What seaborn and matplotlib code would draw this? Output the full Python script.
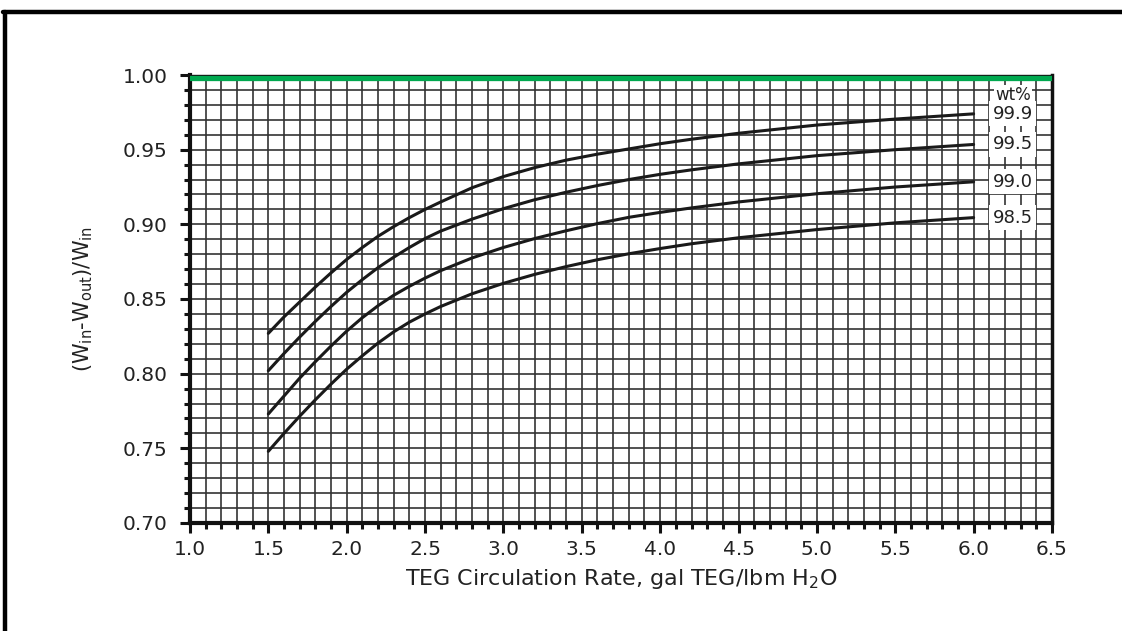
import numpy as np
import pandas as pd
import matplotlib
matplotlib.use("Agg")
import matplotlib.pyplot as plt
import seaborn as sns
from matplotlib.ticker import MultipleLocator, FormatStrFormatter
from matplotlib.lines import Line2D

# ---- data ----
rate = [1.5, 1.6, 1.7, 1.8, 1.9, 2.0, 2.1, 2.2, 2.3, 2.4, 2.5, 2.6,
        2.8, 3.0, 3.2, 3.4, 3.6, 3.8, 4.0, 4.2, 4.5, 5.0, 5.5, 6.0]
wt_99_9 = [0.827, 0.838, 0.848, 0.858, 0.8675, 0.8765, 0.8845, 0.892, 0.8985, 0.9045, 0.910, 0.915,
           0.9245, 0.932, 0.938, 0.943, 0.947, 0.9505, 0.954, 0.957, 0.961, 0.9665, 0.9705, 0.974]
wt_99_5 = [0.802, 0.8135, 0.8245, 0.835, 0.845, 0.8545, 0.863, 0.871, 0.878, 0.8845, 0.8905, 0.8955,
           0.9035, 0.9105, 0.9165, 0.9215, 0.926, 0.930, 0.9335, 0.9365, 0.9405, 0.946, 0.950, 0.9535]
wt_99_0 = [0.773, 0.785, 0.797, 0.808, 0.8185, 0.8285, 0.8375, 0.8455, 0.8525, 0.8585, 0.864, 0.869,
           0.8775, 0.8845, 0.8905, 0.8957, 0.9005, 0.9047, 0.908, 0.911, 0.915, 0.9205, 0.925, 0.9285]
wt_98_5 = [0.748, 0.760, 0.7715, 0.7825, 0.793, 0.803, 0.812, 0.8205, 0.828, 0.8345, 0.840, 0.845,
           0.8535, 0.8605, 0.8665, 0.8717, 0.8763, 0.8803, 0.8838, 0.887, 0.891, 0.8965, 0.901, 0.9045]
series_labels = ["99.9", "99.5", "99.0", "98.5"]
series_values = [wt_99_9, wt_99_5, wt_99_0, wt_98_5]
legend_title = "wt%"

rows = []
for lab, vals in zip(series_labels, series_values):
    for x, y in zip(rate, vals):
        rows.append({"rate": x, "eff": y, "wt": lab})
df = pd.DataFrame(rows)

sns.set_theme(style="white")
plt.rcParams["font.family"] = ["DejaVu Sans"]

fig = plt.figure(figsize=(11.22, 6.31), dpi=100)
ax = fig.add_axes([0.1693, 0.1712, 0.7683, 0.7099])

sns.lineplot(data=df, x="rate", y="eff", hue="wt", hue_order=series_labels,
             palette=["#1a1a1a"] * 4, linewidth=2.2, legend=False, ax=ax, zorder=4)

ax.set_xlim(1.0, 6.5)
ax.set_ylim(0.70, 1.00)
ax.xaxis.set_major_locator(MultipleLocator(0.5))
ax.xaxis.set_minor_locator(MultipleLocator(0.1))
ax.yaxis.set_major_locator(MultipleLocator(0.05))
ax.yaxis.set_minor_locator(MultipleLocator(0.01))
ax.xaxis.set_major_formatter(FormatStrFormatter("%.1f"))
ax.yaxis.set_major_formatter(FormatStrFormatter("%.2f"))

ax.set_axisbelow(True)
ax.grid(which="both", color="#333333", linewidth=1.2)

ax.tick_params(which="major", direction="out", length=7, width=2.2, color="#111111",
               labelsize=14.5, labelcolor="#222222")
ax.tick_params(which="minor", direction="out", length=4, width=2.2, color="#111111")
ax.tick_params(axis="x", which="both", bottom=True, top=False)
ax.tick_params(axis="x", which="major", pad=5)
ax.tick_params(axis="y", which="both", left=True, right=False)
ax.tick_params(axis="y", which="major", pad=9)

for side, lw in [("left", 3.0), ("bottom", 3.0), ("right", 2.5), ("top", 1.0)]:
    ax.spines[side].set_visible(True)
    ax.spines[side].set_linewidth(lw)
    ax.spines[side].set_color("#111111")

# green band along the top of the grid
ax.axhline(0.9983, color="#00a84f", linewidth=3.8, zorder=5)

# curve labels
for lab, vals in zip(series_labels, series_values):
    ax.text(6.25, vals[-1], lab, ha="center", va="center", fontsize=13, color="#222222",
            zorder=6, bbox=dict(facecolor="white", edgecolor="none", pad=2.5))
ax.text(6.25, 0.9866, legend_title, ha="center", va="center", fontsize=12, color="#222222",
        zorder=6, bbox=dict(facecolor="white", edgecolor="none", pad=0.8))

ax.set_xlabel("TEG Circulation Rate, gal TEG/lbm H$\\mathregular{_2}$O",
              fontsize=16, color="#222222", labelpad=6)
ax.set_ylabel("(W$\\mathregular{_{in}}$-W$\\mathregular{_{out}}$)/W$\\mathregular{_{in}}$",
              fontsize=15, color="#222222", labelpad=20)

# outer frame (top and left)
fig.add_artist(Line2D([0.003, 1.0], [1 - 12 / 631] * 2, transform=fig.transFigure,
                      color="black", linewidth=3.2))
fig.add_artist(Line2D([5 / 1122] * 2, [0.0, 1 - 12 / 631], transform=fig.transFigure,
                      color="black", linewidth=3.2))

fig.savefig("out.png", dpi=100, facecolor="white")
